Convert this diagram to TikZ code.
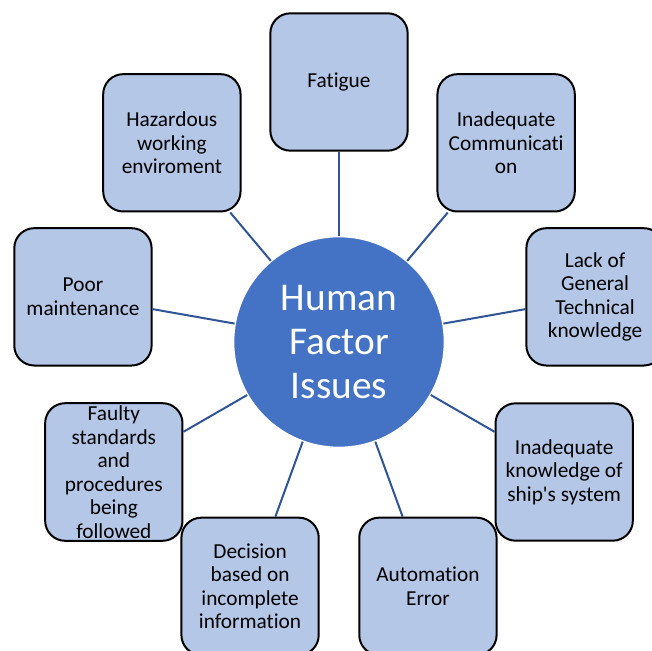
\documentclass[tikz,border=0pt]{standalone}
\usepackage{fontspec}
\setmainfont{Carlito}[Ligatures=NoCommon]
\usepackage{tikz}
\usepackage{xcolor}
\definecolor{boxfill}{HTML}{B4C7E7}
\definecolor{hubfill}{HTML}{4472C4}
\definecolor{spoke}{HTML}{2F5597}
\tikzset{
	issue/.style={
		draw=black, line width=1.5pt, fill=boxfill, rounded corners=15pt,
		minimum width=103pt, minimum height=103pt, inner sep=2pt,
		align=center, font=\fontsize{16}{17.6}\selectfont
	},
	hub/.style={
		circle, fill=hubfill, draw=white, line width=1pt, minimum size=158pt,
		align=center, text=white, font=\fontsize{29.5}{33}\selectfont
	},
	link/.style={spoke, line width=1.5pt}
}

\begin{document}
\begin{tikzpicture}[x=0.75pt, y=0.75pt]
		\useasboundingbox (-339,-308) rectangle (313,342);
		
		\node[hub] (hfi) at (0,0) {Human\\Factor\\Issues};
		
		\node[issue] (fatigue) at (90:260) {Fatigue};
		\node[issue] (comm) at (50:260) {Inadequate\\Communicati\\on};
		\node[issue] (tech) at (10:260) {Lack of\\General\\Technical\\knowledge};
		\node[issue] (ship) at (-30:260) {Inadequate\\knowledge of\\ship\textquotesingle s system};
		\node[issue] (auto) at (-70:260) {Automation\\Error};
		\node[issue] (decision) at (-110:260) {Decision\\based on\\incomplete\\information};
		\node[issue] (faulty) at (-150:260) {Faulty\\standards\\and\\procedures\\being\\followed};
		\node[issue] (maint) at (170:260) {Poor\\maintenance};
		\node[issue] (hazard) at (130:260) {Hazardous\\working\\enviroment};
		
		% spokes from the hub out to every issue
		\draw[link] (hfi) -- (fatigue);
		\draw[link] (hfi) -- (comm);
		\draw[link] (hfi) -- (tech);
		\draw[link] (hfi) -- (ship);
		\draw[link] (hfi) -- (auto);
		\draw[link] (hfi) -- (decision);
		\draw[link] (hfi) -- (faulty);
		\draw[link] (hfi) -- (maint);
		\draw[link] (hfi) -- (hazard);
	\end{tikzpicture}
\end{document}
